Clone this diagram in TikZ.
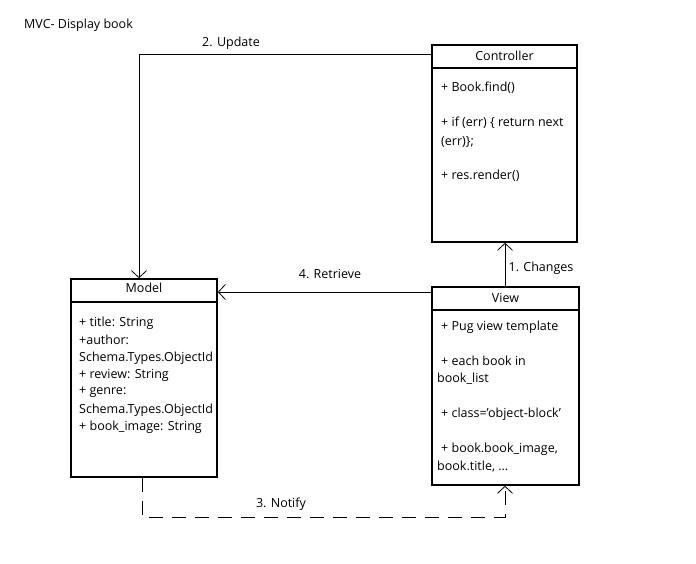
\documentclass[tikz,border=0pt]{standalone}
\usepackage{fontspec}
\setmainfont{Open Sans}
\usetikzlibrary{arrows.meta}
\begin{document}
\begin{tikzpicture}[x=1pt,y=-1pt,
  font=\fontsize{12.5}{15}\selectfont,
  classbox/.style={draw, line width=1.6pt, inner sep=0pt},
  divider/.style={line width=1.6pt},
  conn/.style={line width=0.9pt, -{Straight Barb[length=7pt,width=15pt,line width=0.8pt]}},
  dashconn/.style={conn, dash pattern=on 14pt off 9pt},
  member/.style={anchor=west, inner sep=0pt},
  label/.style={inner sep=0pt}]
\useasboundingbox (0,0) rectangle (696,564);

% title
\node[member] (title) at (24,25) {MVC- Display book};

% Controller class
\node[classbox, minimum width=145pt, minimum height=197pt] (ctrl) at (504.5,143.5) {};
\draw[divider] (432,68) -- (577,68);
\node[label] (ctrlname) at (504.5,56) {Controller};
\node[member] (c1) at (441,88) {+ Book.find()};
\node[member] (c2) at (441,123) {+ if (err) \{ return next};
\node[member] (c3) at (441,142) {(err)\};};
\node[member] (c4) at (441,176) {+ res.render()};

% Model class
\node[classbox, minimum width=146pt, minimum height=198pt] (model) at (144,378) {};
\draw[divider] (71,302) -- (217,302);
\node[label] (modelname) at (144,288) {Model};
\node[member] (m1) at (79,323) {+ title: String};
\node[member] (m2) at (79,340) {+author:};
\node[member] (m3) at (79,358) {Schema.Types.ObjectId};
\node[member] (m4) at (79,375) {+ review: String};
\node[member] (m5) at (79,392) {+ genre:};
\node[member] (m6) at (79,410) {Schema.Types.ObjectId};
\node[member] (m7) at (79,427) {+ book\_image: String};

% View class
\node[classbox, minimum width=147pt, minimum height=198pt] (view) at (505.5,386) {};
\draw[divider] (432,310) -- (579,310);
\node[label] (viewname) at (505.5,298) {View};
\node[member] (v1) at (441,327) {+ Pug view template};
\node[member] (v2) at (441,361) {+ each book in};
\node[member] (v3) at (437,379) {book\_list};
\node[member] (v4) at (441,414) {+ class=\symbol{39}object-block\symbol{39}};
\node[member] (v5) at (441,449) {+ book.book\_image,};
\node[member] (v6) at (437,467) {book.title, ...};

% connectors
\coordinate (updcorner) at (139,54);
\draw[conn] (ctrl.west |- updcorner) -- (updcorner) -- (updcorner |- model.north);
\node[label] (updlbl) at (231,43) {2. Update};

\coordinate (retr) at (0,292);
\draw[conn] (view.west |- retr) -- (model.east |- retr);
\node[label] (retrlbl) at (330,274) {4. Retrieve};

\coordinate (chg) at (505,0);
\draw[conn] (chg |- view.north) -- (chg |- ctrl.south);
\node[label] (chglbl) at (541,268) {1. Changes};

\coordinate (ntf1) at (142,517);
\coordinate (ntf2) at (505,517);
\draw[dashconn] (ntf1 |- model.south) -- (ntf1) -- (ntf2) -- (ntf2 |- view.south);
\node[label] (ntflbl) at (281,504) {3. Notify};
\end{tikzpicture}
\end{document}
